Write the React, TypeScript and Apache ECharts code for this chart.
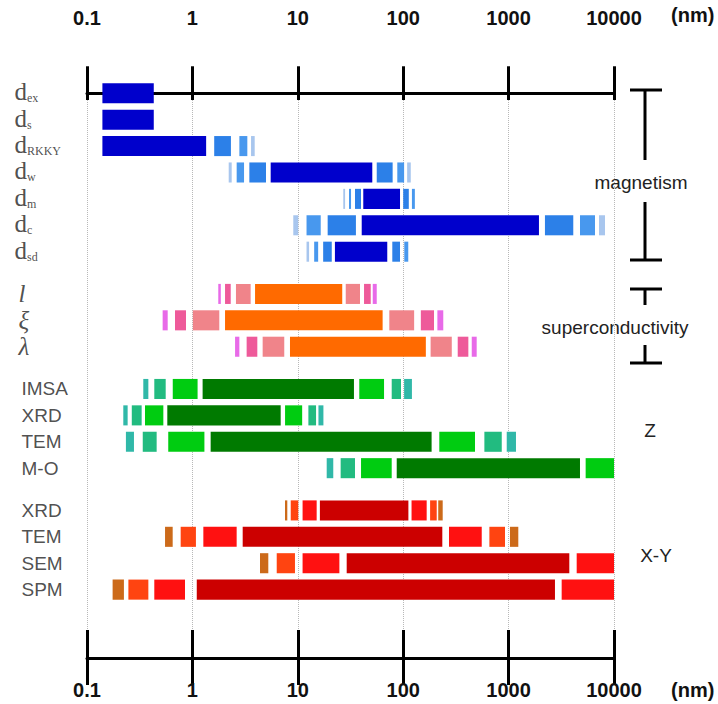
import React, { useEffect, useRef } from "react";
import * as echarts from "echarts";

// ---- data ----
const tickValues = [0.1, 1, 10, 100, 1000, 10000];
const unitLabel = "(nm)";

const magnetismLabels = ["ex", "s", "RKKY", "w", "m", "c", "sd"];
const superLabels = ["l", "ξ", "λ"];
const zLabels = ["IMSA", "XRD", "TEM", "M-O"];
const xyLabels = ["XRD", "TEM", "SEM", "SPM"];

// segments: [start nm, end nm, shade] shade 0 = main (darkest)
const dEx = [[0.14, 0.43, 0]];
const dS = [[0.14, 0.43, 0]];
const dRKKY = [[0.14, 1.35, 0], [1.61, 2.32, 1], [2.79, 3.32, 2], [3.6, 3.9, 3]];
const dW = [[2.21, 2.36, 3], [2.63, 3.09, 2], [3.47, 4.99, 1], [5.53, 50.9, 0], [56.1, 79.4, 1], [87.9, 102, 2], [109, 118, 3]];
const dM = [[27, 28.1, 3], [30.6, 32, 2], [34.9, 39.8, 1], [41.8, 93.3, 0], [100, 113, 1], [121, 129, 2]];
const dC = [[9.06, 10.1, 3], [12.1, 16.5, 2], [19.2, 35.6, 1], [40.4, 1941, 0], [2212, 4108, 1], [4757, 6604, 2], [7206, 8220, 3]];
const dSd = [[12.1, 12.8, 3], [14.3, 15.6, 2], [17.4, 21, 1], [22.5, 70.6, 0], [78.8, 93.3, 1], [102.4, 111.7, 2]];

const scL = [[1.76, 1.86, 3], [2.04, 2.31, 2], [2.59, 3.57, 1], [3.93, 26.4, 0], [28.5, 38.9, 1], [42.5, 49.2, 2], [51.4, 56.1, 3]];
const scXi = [[0.522, 0.583, 3], [0.684, 0.869, 2], [1.01, 1.8, 1], [2.04, 63.8, 0], [73.8, 127, 1], [147, 196, 2], [211, 240, 3]];
const scLambda = [[2.54, 2.79, 3], [3.27, 4.13, 2], [4.64, 7.44, 1], [8.43, 164, 0], [182, 289, 1], [329, 415, 2], [447, 498, 3]];

const zImsa = [[0.342, 0.382, 3], [0.435, 0.558, 2], [0.651, 1.12, 1], [1.25, 34.1, 0], [38.3, 65.8, 1], [77.8, 95.3, 2], [102, 121, 3]];
const zXrd = [[0.221, 0.243, 3], [0.266, 0.33, 2], [0.355, 0.53, 1], [0.578, 6.88, 0], [7.57, 11, 1], [12.6, 14.9, 2], [15.7, 17.5, 3]];
const zTem = [[0.234, 0.279, 3], [0.338, 0.458, 2], [0.59, 1.3, 1], [1.49, 186, 0], [220, 480, 1], [589, 861, 2], [960, 1175, 3]];
const zMo = [[18.8, 21.7, 3], [25.5, 34.9, 2], [39.8, 77.8, 1], [86.8, 4757, 0], [5383, 10000, 1]];

const xyXrd = [[7.56, 7.95, 3], [8.57, 10.1, 2], [11.1, 15.1, 1], [16.2, 112, 0], [120, 167, 1], [180, 208, 2], [215, 237, 3]];
const xyTem = [[0.55, 0.65, 3], [0.774, 1.08, 2], [1.27, 2.63, 1], [3.0, 235, 0], [272, 556, 1], [657, 925, 2], [1030, 1236, 3]];
const xySem = [[4.38, 5.25, 3], [6.31, 9.4, 2], [11.1, 24.8, 1], [29.1, 3767, 0], [4426, 10000, 1]];
const xySpm = [[0.175, 0.224, 3], [0.247, 0.382, 2], [0.435, 0.851, 1], [1.1, 2754, 0], [3188, 10000, 1]];

const bluePalette = ["#0000CC", "#2C80E8", "#4898EE", "#A8C6EE"];
const orangePalette = ["#FF6A00", "#F0848A", "#EE5A9A", "#E86AE8"];
const greenPalette = ["#007A00", "#00CC11", "#22BB80", "#30B8A8"];
const redPalette = ["#CC0000", "#FF1111", "#FF4411", "#CC6A1A"];

const groupNames = ["magnetism", "superconductivity", "Z", "X-Y"];

export default function App() {
  const ref = useRef<HTMLDivElement>(null);

  useEffect(() => {
    if (!ref.current) return;
    const chart = echarts.init(ref.current, null, { renderer: "svg" });

    const groups = [
      { kind: "d", labels: magnetismLabels, rows: [dEx, dS, dRKKY, dW, dM, dC, dSd], palette: bluePalette },
      { kind: "greek", labels: superLabels, rows: [scL, scXi, scLambda], palette: orangePalette },
      { kind: "sans", labels: zLabels, rows: [zImsa, zXrd, zTem, zMo], palette: greenPalette },
      { kind: "sans", labels: xyLabels, rows: [xyXrd, xyTem, xySem, xySpm], palette: redPalette },
    ];

    const barData: any[] = [];
    const labelData: any[] = [];
    let rowIndex = 0;
    groups.forEach((g, gi) => {
      g.rows.forEach((segs, ri) => {
        const pos = rowIndex + 0.6 * gi;
        segs.forEach((s) => {
          barData.push({ value: [s[0], s[1], pos], itemStyle: { color: g.palette[s[2]] } });
        });
        const lab = g.labels[ri];
        let label: any;
        if (g.kind === "d") {
          label = { formatter: `{d|d}{s|${lab}}`, offset: [-72, 1] };
        } else if (g.kind === "greek") {
          label = { formatter: `{g|${lab}}`, offset: [-68, 0] };
        } else {
          label = { formatter: `{t|${lab}}`, offset: [-65, 0] };
        }
        labelData.push({ value: [0.1, pos], label });
        rowIndex++;
      });
    });

    const tickFont = {
      fontFamily: '"Liberation Sans Narrow", "Liberation Sans", Arial, sans-serif',
      fontWeight: "bold" as const,
      fontSize: 20,
      color: "#111",
    };
    const fmt = (v: number) => (tickValues.includes(v) ? String(v) : "");

    const axisBase = {
      type: "log" as const,
      logBase: 10,
      min: 0.1,
      max: 10000,
      gridIndex: 0,
    };

    const option: any = {
      animation: false,
      backgroundColor: "#fff",
      grid: { left: 87, right: 104, top: 74, bottom: 46 },
      xAxis: [
        {
          ...axisBase,
          position: "top",
          axisLine: { show: true, lineStyle: { color: "#000", width: 3 } },
          axisTick: { show: true, inside: false, length: 27, lineStyle: { color: "#000", width: 3 } },
          axisLabel: { show: true, margin: 46, formatter: fmt, ...tickFont },
          splitLine: { show: true, lineStyle: { color: "#b8b8b8", type: "dotted", width: 1 } },
          minorTick: { show: false },
        },
        {
          ...axisBase,
          position: "top",
          axisLine: { show: false },
          axisTick: { show: true, inside: true, length: 26, lineStyle: { color: "#000", width: 3 } },
          axisLabel: { show: false },
          splitLine: { show: false },
        },
        {
          ...axisBase,
          position: "bottom",
          axisLine: { show: true, lineStyle: { color: "#000", width: 3 } },
          axisTick: { show: true, inside: false, length: 27, lineStyle: { color: "#000", width: 3 } },
          axisLabel: { show: true, margin: 22, formatter: fmt, ...tickFont },
          splitLine: { show: false },
        },
        {
          ...axisBase,
          position: "bottom",
          axisLine: { show: false },
          axisTick: { show: true, inside: true, length: 28, lineStyle: { color: "#000", width: 3 } },
          axisLabel: { show: false },
          splitLine: { show: false },
        },
      ],
      yAxis: {
        type: "value",
        inverse: true,
        min: -0.73,
        max: 21.39,
        show: false,
      },
      series: [
        {
          type: "custom",
          xAxisIndex: 0,
          yAxisIndex: 0,
          silent: true,
          encode: { x: [0, 1], y: 2 },
          data: barData,
          renderItem: (params: any, api: any) => {
            const pos = api.value(2);
            const s = api.coord([api.value(0), pos]);
            const e = api.coord([api.value(1), pos]);
            const top = api.coord([api.value(0), pos - 0.38]);
            const bot = api.coord([api.value(0), pos + 0.38]);
            const h = bot[1] - top[1];
            return {
              type: "rect",
              shape: { x: s[0], y: s[1] - h / 2, width: e[0] - s[0], height: h },
              style: { fill: api.visual("color") },
            };
          },
        },
        {
          type: "scatter",
          xAxisIndex: 0,
          yAxisIndex: 0,
          silent: true,
          symbolSize: 1,
          itemStyle: { color: "rgba(0,0,0,0)" },
          data: labelData,
          label: {
            show: true,
            position: "left",
            distance: 0,
            align: "left",
            rich: {
              d: { fontFamily: '"Liberation Serif", "DejaVu Serif", serif', fontSize: 25, color: "#222", verticalAlign: "bottom", lineHeight: 20 },
              s: { fontFamily: '"Liberation Serif", "DejaVu Serif", serif', fontSize: 12, color: "#222", verticalAlign: "bottom", lineHeight: 8 },
              g: { fontFamily: '"Liberation Serif", "DejaVu Serif", serif', fontStyle: "italic", fontSize: 25, color: "#222", lineHeight: 21 },
              t: { fontFamily: '"Liberation Sans", Arial, sans-serif', fontSize: 19, color: "#222", lineHeight: 21 },
            },
          },
        },
      ],
      graphic: [
        { type: "text", left: 671, top: 5, style: { text: unitLabel, font: "bold 20px 'Liberation Sans Narrow', 'Liberation Sans', Arial", fill: "#111" } },
        { type: "text", left: 671, top: 680, style: { text: unitLabel, font: "bold 20px 'Liberation Sans Narrow', 'Liberation Sans', Arial", fill: "#111" } },
        // magnetism bracket
        { type: "line", shape: { x1: 630, y1: 90, x2: 662, y2: 90 }, style: { stroke: "#000", lineWidth: 3 } },
        { type: "line", shape: { x1: 645, y1: 90, x2: 645, y2: 160 }, style: { stroke: "#000", lineWidth: 3 } },
        { type: "line", shape: { x1: 645, y1: 202, x2: 645, y2: 260 }, style: { stroke: "#000", lineWidth: 3 } },
        { type: "line", shape: { x1: 630, y1: 260, x2: 662, y2: 260 }, style: { stroke: "#000", lineWidth: 3 } },
        { type: "text", x: 641, y: 182, style: { text: groupNames[0], font: "19px 'Liberation Sans', Arial", fill: "#222", textAlign: "center", textVerticalAlign: "middle" } },
        // superconductivity bracket
        { type: "line", shape: { x1: 630, y1: 289, x2: 662, y2: 289 }, style: { stroke: "#000", lineWidth: 3 } },
        { type: "line", shape: { x1: 645, y1: 289, x2: 645, y2: 305 }, style: { stroke: "#000", lineWidth: 3 } },
        { type: "line", shape: { x1: 645, y1: 345, x2: 645, y2: 363 }, style: { stroke: "#000", lineWidth: 3 } },
        { type: "line", shape: { x1: 630, y1: 363, x2: 662, y2: 363 }, style: { stroke: "#000", lineWidth: 3 } },
        { type: "text", x: 615, y: 327, style: { text: groupNames[1], font: "19px 'Liberation Sans', Arial", fill: "#222", textAlign: "center", textVerticalAlign: "middle" } },
        { type: "text", x: 650, y: 430, style: { text: groupNames[2], font: "19px 'Liberation Sans', Arial", fill: "#222", textAlign: "center", textVerticalAlign: "middle" } },
        { type: "text", x: 656, y: 555, style: { text: groupNames[3], font: "19px 'Liberation Sans', Arial", fill: "#222", textAlign: "center", textVerticalAlign: "middle" } },
      ],
    };

    chart.setOption(option);
    return () => chart.dispose();
  }, []);

  return (
    <div
      ref={ref}
      style={{ position: "fixed", left: 0, top: 0, width: 718, height: 704, background: "#fff" }}
    />
  );
}
